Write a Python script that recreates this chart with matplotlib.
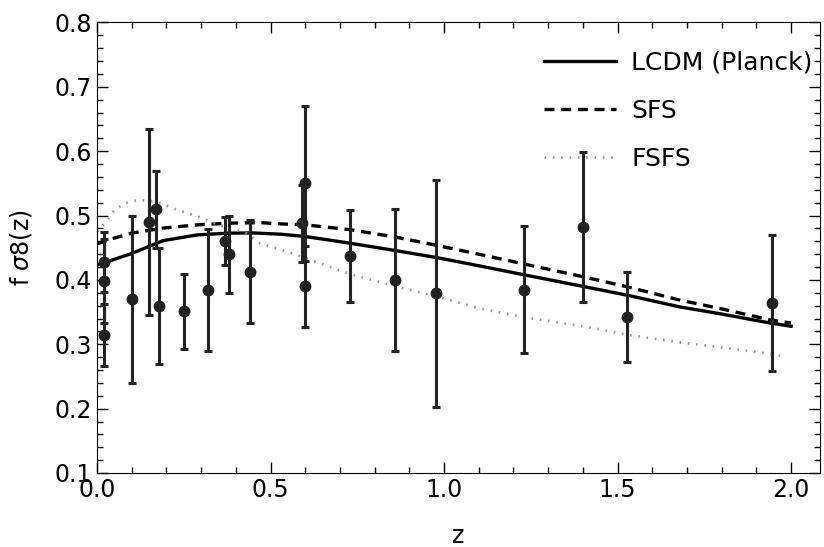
import numpy as np
import matplotlib
matplotlib.use('Agg')
import matplotlib.pyplot as plt
from matplotlib.ticker import MultipleLocator

# growth data f*sigma8(z)
Z_DATA = [0.02, 0.02, 0.02, 0.10, 0.15, 0.17, 0.18, 0.25, 0.32, 0.37, 0.38, 0.44,
          0.59, 0.60, 0.60, 0.73, 0.86, 0.978, 1.23, 1.40, 1.526, 1.944]
FS8_DATA = [0.428, 0.398, 0.314, 0.370, 0.490, 0.510, 0.360, 0.3512, 0.384, 0.4602, 0.440, 0.413,
            0.488, 0.550, 0.390, 0.437, 0.400, 0.379, 0.385, 0.482, 0.342, 0.364]
FS8_ERR = [0.0465, 0.065, 0.048, 0.130, 0.145, 0.060, 0.090, 0.0583, 0.095, 0.0378, 0.060, 0.080,
           0.060, 0.120, 0.063, 0.072, 0.110, 0.176, 0.099, 0.116, 0.070, 0.106]

# model curves
Z_LCDM = [0.0, 0.05, 0.10, 0.19, 0.29, 0.38, 0.45, 0.53, 0.60, 0.73, 0.86, 0.98, 1.10, 1.23, 1.40, 1.53, 1.68, 1.80, 1.94, 2.0]
FS8_LCDM = [0.423, 0.432, 0.441, 0.461, 0.470, 0.4727, 0.473, 0.471, 0.4675, 0.457, 0.4456, 0.4346, 0.422, 0.408, 0.390, 0.376, 0.358, 0.347, 0.333, 0.328]

Z_SFS = [0.0, 0.05, 0.10, 0.19, 0.29, 0.38, 0.47, 0.53, 0.60, 0.73, 0.86, 0.98, 1.10, 1.23, 1.40, 1.53, 1.68, 1.80, 1.94, 2.0]
FS8_SFS = [0.456, 0.465, 0.4727, 0.4805, 0.4856, 0.4882, 0.489, 0.487, 0.4856, 0.478, 0.4666, 0.4536, 0.440, 0.4248, 0.405, 0.389, 0.3686, 0.355, 0.3378, 0.333]

Z_FSFS = [0.0, 0.03, 0.05, 0.08, 0.12, 0.17, 0.23, 0.29, 0.35, 0.43, 0.47, 0.53, 0.60, 0.73, 0.86, 0.98, 1.10, 1.23, 1.40, 1.53, 1.68, 1.80, 1.94, 1.98]
FS8_FSFS = [0.475, 0.493, 0.5087, 0.519, 0.5243, 0.5217, 0.509, 0.4985, 0.4856, 0.4727, 0.457, 0.447, 0.434, 0.409, 0.390, 0.374, 0.356, 0.342, 0.328, 0.3147, 0.303, 0.295, 0.285, 0.281]

fig = plt.figure(figsize=(8.24, 5.47), dpi=100)
ax = fig.add_axes([0.1177, 0.1353, 0.8773, 0.8236])

ax.plot(Z_LCDM, FS8_LCDM, color='black', lw=2.4, label='LCDM (Planck)')
ax.plot(Z_SFS, FS8_SFS, color='black', lw=2.4, ls=(0, (3, 2)), label='SFS')
ax.plot(Z_FSFS, FS8_FSFS, color='#999999', lw=2.0, ls=(0, (0.6, 2.4)), label='FSFS')
ax.errorbar(Z_DATA, FS8_DATA, yerr=FS8_ERR, fmt='o', color='#222222', ms=7.5,
            elinewidth=2.2, capsize=3.2, capthick=2.2)

ax.set_xlim(0, 2.083)
ax.set_ylim(0.1, 0.8)
ax.xaxis.set_major_locator(MultipleLocator(0.5))
ax.xaxis.set_minor_locator(MultipleLocator(0.1))
ax.yaxis.set_major_locator(MultipleLocator(0.1))
ax.yaxis.set_minor_locator(MultipleLocator(0.02))
ax.tick_params(which='both', direction='in', top=True, right=True, labelsize=17)
ax.tick_params(which='major', length=8, width=1)
ax.tick_params(which='minor', length=4, width=1)
ax.set_xlabel('z', fontsize=17, labelpad=16)
ax.set_ylabel(r'f $\sigma$8(z)', fontsize=17, labelpad=15)

ax.legend(loc='upper right', bbox_to_anchor=(1.004, 0.959), frameon=False, fontsize=18,
          handlelength=2.9, handletextpad=0.6, labelspacing=0.96, borderaxespad=0.0)

fig.savefig('out.png', dpi=100)
